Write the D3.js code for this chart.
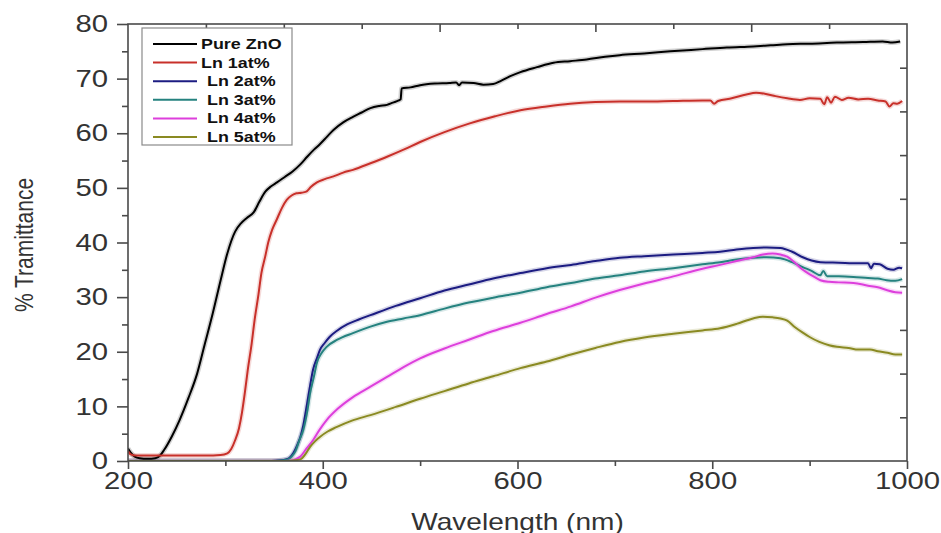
<!DOCTYPE html>
<html>
<head>
<meta charset="utf-8">
<script src="https://cdn.jsdelivr.net/npm/d3@7"></script>
<style>
  html, body { margin: 0; padding: 0; background: #fff; }
  svg { display: block; font-family: "Liberation Sans", Arial, sans-serif; }
</style>
</head>
<body>
<svg id="chart" width="941" height="533"></svg>
<script>
// Transmittance spectra, [wavelength (nm), % transmittance]
const pureZnO = [[200,2.3],[203,1.5],[207,0.8],[212,0.5],[220,0.4],[228,0.5],[233,1.0],[237,2.0],[245,4.5],[253,7.5],[262,11.5],[271,16],[279,21.5],[287,27],[295,33],[302,38],[310,42],[316,43.5],[322,44.5],[329,45.5],[335,47.5],[341,49.3],[347,50.3],[353,51],[361,52],[369,53],[377,54.3],[384,55.7],[391,57],[397,58],[404,59.3],[411,60.6],[421,62],[431,63],[440,63.8],[449,64.6],[458,65],[466,65.2],[472,65.6],[478,66],[480,66.2],[481,68.2],[490,68.4],[500,68.8],[515,69.1],[530,69.2],[537,69.3],[540,68.8],[543,69.3],[555,69.2],[565,68.9],[575,69],[583,69.6],[592,70.4],[603,71.2],[620,72.1],[637,72.9],[654,73.2],[671,73.5],[690,74],[705,74.3],[730,74.6],[757,75],[790,75.4],[815,75.7],[842,75.9],[860,76.1],[877,76.3],[900,76.4],[928,76.6],[955,76.7],[975,76.8],[985,76.6],[993,76.8]];

const ln1 = [[200,1.8],[203,1.2],[208,1.0],[220,1.0],[250,1.0],[280,1.0],[295,1.1],[302,1.4],[306,2.2],[310,3.8],[314,6],[317,8.8],[320,12.5],[323,16.7],[327,21.5],[330,25.8],[334,30.5],[337,34.4],[341,37.5],[344,40],[348,42.3],[353,44.3],[358,46.3],[363,47.8],[368,48.6],[373,49],[378,49.1],[383,49.3],[388,50.2],[394,51],[402,51.6],[411,52.1],[421,52.8],[431,53.3],[449,54.5],[466,55.7],[483,57],[500,58.4],[525,60.2],[551,61.8],[577,63.1],[603,64.2],[630,64.9],[654,65.4],[680,65.7],[705,65.8],[730,65.8],[760,65.9],[790,66],[798,66],[802,65.4],[806,65.9],[820,66.4],[835,67.1],[845,67.4],[855,67.2],[865,66.8],[877,66.4],[890,66.1],[900,66.4],[911,66.3],[915,65.3],[918,66.6],[922,65.6],[926,66.7],[933,66.1],[940,66.5],[950,66.2],[960,66.3],[970,66],[978,65.8],[982,64.9],[986,65.5],[990,65.4],[995,65.9]];

const ln2 = [[200,0],[250,0],[300,0],[340,0],[355,0.1],[362,0.3],[366,0.6],[370,1.5],[374,3],[377,4.4],[380,6.5],[384,10.6],[387,13.8],[390,16.7],[394,18.8],[397,20.3],[402,21.6],[407,22.7],[415,23.9],[425,25],[437,25.9],[449,26.7],[475,28.4],[500,29.8],[525,31.2],[550,32.3],[575,33.4],[603,34.4],[630,35.3],[655,35.9],[680,36.6],[705,37.2],[730,37.5],[760,37.8],[790,38.1],[808,38.3],[825,38.7],[842,39],[856,39.1],[870,39],[882,38.3],[893,37.3],[902,36.7],[911,36.4],[930,36.3],[950,36.2],[960,36.2],[963,35.3],[966,36.1],[972,36],[980,35.2],[986,35],[992,35.4],[995,35.3]];

const ln3 = [[200,0],[300,0],[345,0],[358,0.1],[364,0.3],[368,0.8],[372,1.8],[376,3.8],[380,5.7],[384,9],[387,12.4],[391,15.5],[394,18],[399,19.8],[404,20.9],[415,22.2],[431,23.4],[449,24.6],[466,25.5],[483,26.1],[500,26.7],[525,27.9],[550,29],[575,29.9],[603,30.8],[630,31.8],[655,32.6],[680,33.4],[705,34],[730,34.7],[760,35.3],[790,36],[808,36.4],[825,36.9],[842,37.2],[856,37.3],[870,37.1],[882,36.4],[893,35.5],[902,34.8],[911,34],[914,34.8],[918,33.8],[930,33.8],[945,33.7],[960,33.5],[970,33.4],[979,33.1],[988,33],[995,33.3]];

const ln4 = [[200,0],[300,0],[355,0],[368,0.1],[373,0.4],[377,0.8],[383,2.2],[390,3.8],[397,5.8],[404,7.5],[415,9.5],[431,11.7],[449,13.6],[466,15.4],[483,17.2],[500,18.8],[525,20.6],[550,22.2],[575,23.8],[603,25.3],[630,26.9],[655,28.3],[680,29.9],[705,31.3],[730,32.5],[760,33.8],[790,35.2],[808,35.9],[825,36.6],[842,37.3],[852,37.8],[862,38],[870,37.8],[877,37.4],[885,36.3],[893,35],[902,34],[911,33.1],[920,32.8],[930,32.7],[945,32.6],[960,32.1],[970,31.8],[979,31.3],[988,30.9],[995,30.8]];

const ln5 = [[200,0],[300,0],[360,0],[370,0.1],[377,0.3],[382,1.2],[387,2.6],[392,3.6],[397,4.4],[405,5.4],[414,6.2],[430,7.4],[449,8.4],[475,9.9],[500,11.4],[525,12.8],[550,14.2],[575,15.5],[603,17],[630,18.2],[655,19.5],[680,20.7],[705,21.8],[730,22.6],[760,23.3],[790,23.9],[808,24.3],[825,25.1],[842,26.1],[852,26.4],[862,26.3],[870,26.1],[877,25.7],[885,24.5],[893,23.5],[900,22.7],[910,21.8],[920,21.2],[928,20.9],[940,20.7],[950,20.4],[962,20.4],[970,20.1],[980,19.8],[988,19.5],[995,19.5]];

const seriesNames = ["Pure ZnO", "Ln 1at%", "Ln 2at%", "Ln 3at%", "Ln 4at%", "Ln 5at%"];
const seriesColors = ["#000000", "#c8302a", "#1c1c82", "#25827f", "#dd3fdc", "#8a8a22"];
const seriesData = [pureZnO, ln1, ln2, ln3, ln4, ln5];

const xTicks = [200, 400, 600, 800, 1000];
const yTicks = [0, 10, 20, 30, 40, 50, 60, 70, 80];

const svg = d3.select("#chart");
const plotLeft = 128, plotRight = 907, plotTop = 24, plotBottom = 461;
const wide = 1.22; // horizontal stretch of all lettering

const x = d3.scaleLinear().domain([200, 1000]).range([plotLeft, plotRight]);
const y = d3.scaleLinear().domain([0, 80]).range([plotBottom, plotTop]);

const axisColor = "#4a4a4a";
const labelColor = "#333";

// clip for the plot area
svg.append("defs").append("clipPath").attr("id", "plot")
  .append("rect").attr("x", plotLeft).attr("y", plotTop - 2)
  .attr("width", plotRight - plotLeft).attr("height", plotBottom - plotTop + 2);

// curves
const line = d3.line().x(d => x(d[0])).y(d => y(d[1])).curve(d3.curveMonotoneX);
const curves = svg.append("g").attr("clip-path", "url(#plot)");
// faint coloured halo under each trace
seriesData.forEach((s, i) => {
  curves.append("path").datum(s).attr("d", line)
    .attr("fill", "none").attr("stroke", seriesColors[i])
    .attr("stroke-opacity", 0.18).attr("stroke-width", 5)
    .attr("stroke-linejoin", "round");
});
seriesData.forEach((s, i) => {
  curves.append("path").datum(s).attr("d", line)
    .attr("fill", "none").attr("stroke", seriesColors[i])
    .attr("stroke-width", 2).attr("stroke-linejoin", "round");
});

// frame
svg.append("rect").attr("x", plotLeft).attr("y", plotTop)
  .attr("width", plotRight - plotLeft).attr("height", plotBottom - plotTop)
  .attr("fill", "none").attr("stroke", axisColor).attr("stroke-width", 1.6);

// bottom axis: majors every 200 nm, minors at 100 nm
const xMinor = d3.range(300, 1000, 200);
svg.append("g").attr("transform", `translate(0,${plotBottom})`)
  .call(d3.axisBottom(x).tickValues(xMinor).tickSize(5).tickFormat(""))
  .call(g => g.select(".domain").remove())
  .call(g => g.selectAll("line").attr("stroke", axisColor).attr("stroke-width", 1.6));
svg.append("g").attr("transform", `translate(0,${plotBottom})`)
  .call(d3.axisBottom(x).tickValues(xTicks).tickSize(8).tickPadding(3).tickFormat(d3.format("d")))
  .call(g => g.select(".domain").remove())
  .call(g => g.selectAll("line").attr("stroke", axisColor).attr("stroke-width", 1.6))
  .call(g => g.selectAll("text").attr("font-size", 24).attr("fill", labelColor)
    .attr("font-family", "Liberation Sans, Arial, sans-serif")
    .attr("transform", `scale(${wide},1)`));

// left axis: majors every 10, minors at 5
const yMinor = d3.range(5, 80, 10);
svg.append("g").attr("transform", `translate(${plotLeft},0)`)
  .call(d3.axisLeft(y).tickValues(yMinor).tickSize(6).tickFormat(""))
  .call(g => g.select(".domain").remove())
  .call(g => g.selectAll("line").attr("stroke", axisColor).attr("stroke-width", 1.6));
svg.append("g").attr("transform", `translate(${plotLeft},0)`)
  .call(d3.axisLeft(y).tickValues(yTicks).tickSize(11).tickPadding(9))
  .call(g => g.select(".domain").remove())
  .call(g => g.selectAll("line").attr("stroke", axisColor).attr("stroke-width", 1.6))
  .call(g => g.selectAll("text").attr("font-size", 24).attr("fill", labelColor)
    .attr("font-family", "Liberation Sans, Arial, sans-serif")
    .attr("x", -20 / wide)
    .attr("transform", `scale(${wide},1)`));

// top axis: inward ticks, unlabeled
const xTop = d3.range(280, 1000, 80);
svg.append("g").attr("transform", `translate(0,${plotTop})`)
  .call(d3.axisBottom(x).tickValues(xTop).tickSizeInner(0).tickSizeOuter(0).tickFormat(""))
  .call(g => g.select(".domain").remove())
  .call(g => g.selectAll(".tick line")
    .attr("y2", d => Math.round((d - 200) / 80) % 2 === 0 ? 8 : 5)
    .attr("stroke", axisColor).attr("stroke-width", 1.6));

// right axis: inward ticks, unlabeled
const yRight = d3.range(8, 80, 8);
svg.append("g").attr("transform", `translate(${plotRight},0)`)
  .call(d3.axisLeft(y).tickValues(yRight).tickSize(7).tickFormat(""))
  .call(g => g.select(".domain").remove())
  .call(g => g.selectAll("line").attr("stroke", axisColor).attr("stroke-width", 1.6));

// axis titles
svg.append("text")
  .attr("transform", `translate(${(plotLeft + plotRight) / 2},530) scale(${wide},1)`)
  .attr("text-anchor", "middle").attr("font-size", 23).attr("fill", labelColor)
  .text("Wavelength (nm)");
svg.append("text").attr("transform", `translate(33,245) scale(${wide},1) rotate(-90)`)
  .attr("text-anchor", "middle").attr("font-size", 21).attr("fill", labelColor)
  .text("% Tramittance");

// legend
const legend = svg.append("g");
legend.append("rect").attr("x", 142).attr("y", 28).attr("width", 150).attr("height", 117)
  .attr("fill", "#fff").attr("stroke", "#8a8a8a").attr("stroke-width", 1.2);
seriesNames.forEach((name, i) => {
  const ly = 44 + i * 18.6;
  legend.append("line").attr("x1", 153).attr("x2", 197).attr("y1", ly).attr("y2", ly)
    .attr("stroke", seriesColors[i]).attr("stroke-width", 2);
  legend.append("text")
    .attr("transform", `translate(${i < 2 ? 201 : 207},${ly + 5}) scale(1.28,1)`)
    .attr("font-size", 14).attr("font-weight", "bold").attr("fill", "#111")
    .text(name);
});
</script>
</body>
</html>
